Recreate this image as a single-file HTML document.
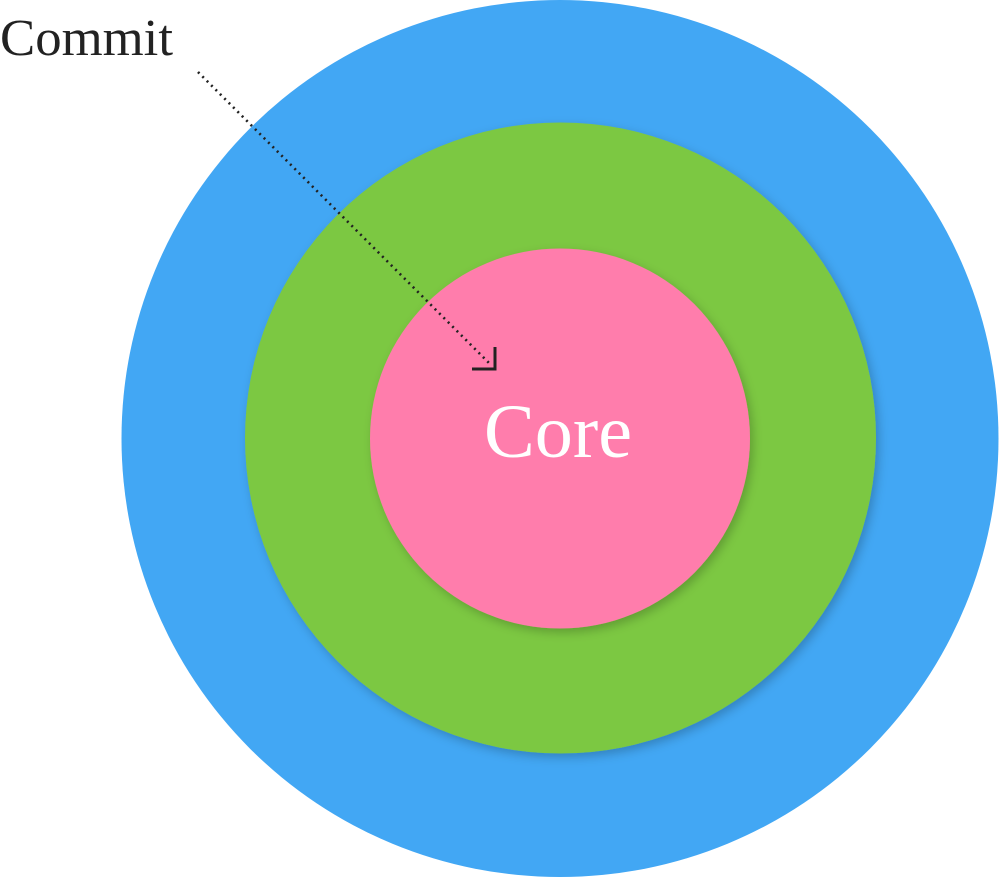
<!DOCTYPE html>
<html><head><style>html,body{margin:0;padding:0;background:#fff;width:1000px;height:880px;overflow:hidden}</style></head>
<body>
<svg width="1000" height="880" xmlns="http://www.w3.org/2000/svg">
<defs>
<filter id="sh" x="-20%" y="-20%" width="140%" height="140%"><feDropShadow dx="3" dy="4" stdDeviation="5" flood-color="#000" flood-opacity="0.22"/></filter>
</defs>
<circle cx="560" cy="438.5" r="438.5" fill="#42A7F4"/>
<circle cx="560.5" cy="438" r="315.5" fill="#7CC843" filter="url(#sh)"/>
<circle cx="560" cy="438.5" r="190" fill="#FF7DAC" filter="url(#sh)"/>
<text x="558" y="457" font-family="Liberation Serif, serif" font-size="76" fill="#fff" text-anchor="middle" textLength="148" lengthAdjust="spacingAndGlyphs">Core</text>
<text x="0" y="55" font-family="Liberation Serif, serif" font-size="52" fill="#222" textLength="173" lengthAdjust="spacingAndGlyphs">Commit</text>
<line x1="198" y1="72" x2="489" y2="363" stroke="#222" stroke-width="2.6" stroke-dasharray="2 4.2"/>
<path d="M472 369 H495 V347" fill="none" stroke="#222" stroke-width="3"/>
</svg>
</body></html>
